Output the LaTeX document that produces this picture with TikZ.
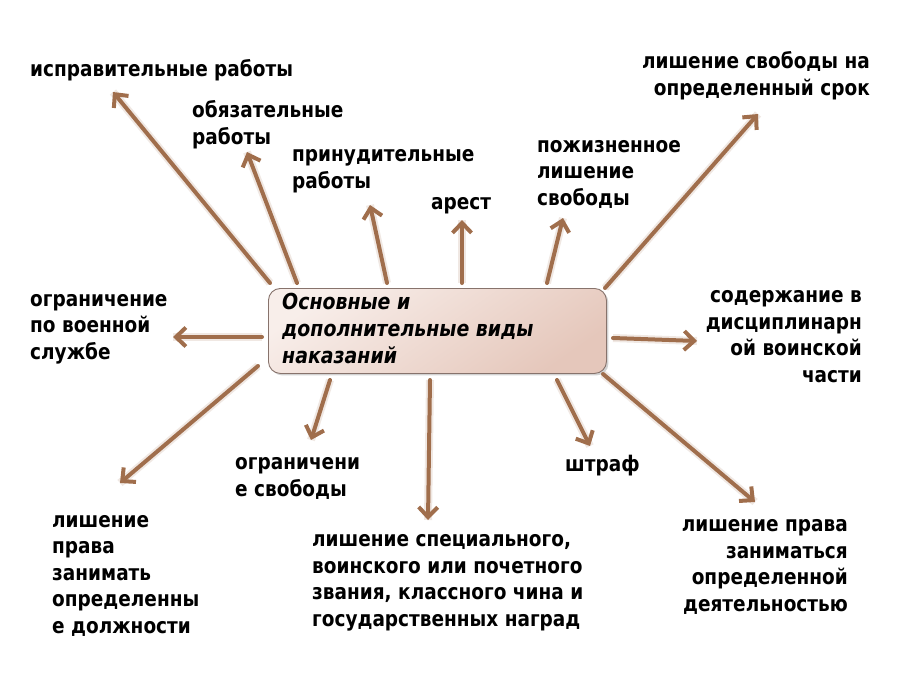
\documentclass[tikz,border=0pt]{standalone}
\usepackage{fontspec}
\setmainfont{DejaVu Sans}[FakeStretch=0.86]
\usetikzlibrary{arrows.meta,shadows,calc}
\definecolor{arrbrown}{RGB}{160,110,76}
\definecolor{boxT}{RGB}{248,238,234}
\definecolor{boxB}{RGB}{229,199,187}
\definecolor{boxline}{RGB}{135,115,108}
\tikzset{
  lbl/.style={inner sep=0pt, font=\bfseries\fontsize{21.5}{26.5}\selectfont, text=black},
  lblL/.style={lbl, anchor=base west, align=left},
  lblR/.style={lbl, anchor=base east, align=right},
  arr/.style={draw=arrbrown, line width=4pt, line cap=round,
    -{Straight Barb[length=10pt,width=19pt]},
    preaction={draw=arrbrown!70, line width=8pt, opacity=0.22, -}},
  mainbox/.style={draw=boxline, line width=0.9pt, rounded corners=12pt,
    top color=boxT, bottom color=boxB, shading angle=35,
    drop shadow={opacity=0.35, shadow xshift=2pt, shadow yshift=-2pt}}
}
\begin{document}
\begin{tikzpicture}[x=1pt,y=-1pt]
\useasboundingbox[fill=white] (0,0) rectangle (900,675);

% central box
\node[mainbox, minimum width=338pt, minimum height=85pt, anchor=north west] (box) at (268,288) {};
\node[inner sep=0pt, anchor=base west, align=left,
  font=\bfseries\itshape\fontsize{22}{27}\selectfont] (title) at (282,363)
  {Основные и\\дополнительные виды\\наказаний};

% labels (anchor = baseline of last line)
\node[lblL] (l1) at (30,76) {исправительные работы};
\node[lblL] (l2) at (192,144) {обязательные\\работы};
\node[lblL] (l3) at (292,188) {принудительные\\работы};
\node[lblL] (l4) at (431,209) {арест};
\node[lblL] (l5) at (537,205) {пожизненное\\лишение\\свободы};
\node[lblR] (l6) at (870,95) {лишение свободы на\\определенный срок};
\node[lblR] (l7) at (862,382) {содержание в\\дисциплинарн\\ой воинской\\части};
\node[lblR] (l8) at (848,611) {лишение права\\заниматься\\определенной\\деятельностью};
\node[lblL] (l9) at (565,471) {штраф};
\node[lblL] (l10) at (312,626) {лишение специального,\\воинского или почетного\\звания, классного чина и\\государственных наград};
\node[lblL] (l11) at (235,496) {ограничени\\е свободы};
\node[lblL] (l12) at (52,633) {лишение\\права\\занимать\\определенны\\е должности};
\node[lblL] (l13) at (30,359) {ограничение\\по военной\\службе};

% connector ends
\coordinate (t1) at (270,283);  \coordinate (h1) at (113,92);
\coordinate (t2) at (297,283);  \coordinate (h2) at (247,152);
\coordinate (t3) at (387,283);  \coordinate (h3) at (370,205);
\coordinate (t4) at (462,283);  \coordinate (h4) at (462,220);
\coordinate (t5) at (547,283);  \coordinate (h5) at (563,218);
\coordinate (t6) at (605,288);  \coordinate (h6) at (758,114);
\coordinate (t7) at (613,338);  \coordinate (h7) at (697,341);
\coordinate (t8) at (603,374);  \coordinate (h8) at (755,502);
\coordinate (t9) at (557,380);  \coordinate (h9) at (590,446);
\coordinate (t10) at (430,380); \coordinate (h10) at (428,520);
\coordinate (t11) at (330,380); \coordinate (h11) at (311,440);
\coordinate (t12) at (258,366); \coordinate (h12) at (120,483);
\coordinate (t13) at (262,337); \coordinate (h13) at (173,337);

\foreach \i in {1,...,13}{\draw[arr] (t\i) -- (h\i);}
\end{tikzpicture}
\end{document}
